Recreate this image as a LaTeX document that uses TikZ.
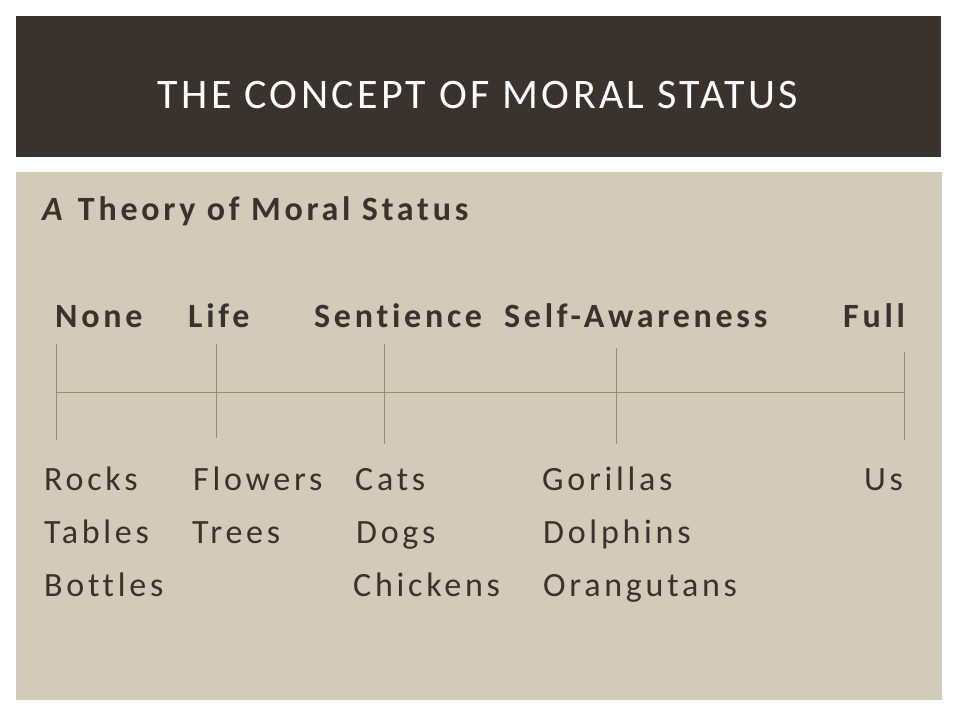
\documentclass[tikz,border=0pt]{standalone}
\usepackage{fontspec}
\setmainfont{Carlito}
\newfontfamily\slidefont[LetterSpace=11,Ligatures=NoCommon]{Carlito}
\newfontfamily\headfont[LetterSpace=8,Ligatures=NoCommon]{Carlito}
\usetikzlibrary{positioning}
\definecolor{slidedark}{HTML}{3A322D}
\definecolor{slidesand}{HTML}{D2CBB9}
\definecolor{scaleline}{HTML}{9B8B6F}

\begin{document}
\begin{tikzpicture}[x=1pt,y=-1pt,
  word/.style={anchor=base west,inner sep=0pt,text=slidedark,font=\slidefont\fontsize{34}{40}\selectfont},
  level/.style={word,font=\slidefont\bfseries\fontsize{34}{40}\selectfont},
  tick/.style={draw=scaleline,line width=1pt}]

\useasboundingbox[fill=white] (0,0) rectangle (960,720);
\fill[slidedark] (16,16) rectangle (941,157);
\fill[slidesand] (16,172) rectangle (942,700);

\node[anchor=base,inner sep=0pt,text=white,font=\headfont\fontsize{42}{48}\selectfont] (title) at (478,108) {THE CONCEPT OF MORAL STATUS};
\node[level] (theory) at (42,220) {\textit{A} Theory of Moral Status};

% levels of the scale
\node[level] (none) at (55,327) {None};
\node[level] (life) at (188,327) {Life};
\node[level] (sent) at (314,327) {Sentience};
\node[level] (self) at (504,327) {Self-Awareness};
\node[level] (full) at (843,327) {Full};

% the scale
\coordinate (n0) at (56,344);  \coordinate (n1) at (56,440);
\coordinate (l0) at (216,344); \coordinate (l1) at (216,438);
\coordinate (s0) at (384,344); \coordinate (s1) at (384,444);
\coordinate (a0) at (616,348); \coordinate (a1) at (616,444);
\coordinate (f0) at (904,352); \coordinate (f1) at (904,440);
\coordinate (left) at (56,392);
\coordinate (right) at (904,392);

\draw[tick] (n0) -- (n1);
\draw[tick] (l0) -- (l1);
\draw[tick] (s0) -- (s1);
\draw[tick] (a0) -- (a1);
\draw[tick] (f0) -- (f1);
\draw[tick] (left) -- (right);

% examples
\node[word] (rocks) at (44,490) {Rocks};
\node[word] (tables) at (44,543) {Tables};
\node[word] (bottles) at (44,596) {Bottles};
\node[word] (flowers) at (193,490) {Flowers};
\node[word] (trees) at (192,543) {Trees};
\node[word] (cats) at (355,490) {Cats};
\node[word] (dogs) at (356,543) {Dogs};
\node[word] (chickens) at (353,596) {Chickens};
\node[word] (gorillas) at (542,490) {Gorillas};
\node[word] (dolphins) at (543,543) {Dolphins};
\node[word] (orangutans) at (543,596) {Orangutans};
\node[word] (us) at (864,490) {Us};
\end{tikzpicture}
\end{document}
